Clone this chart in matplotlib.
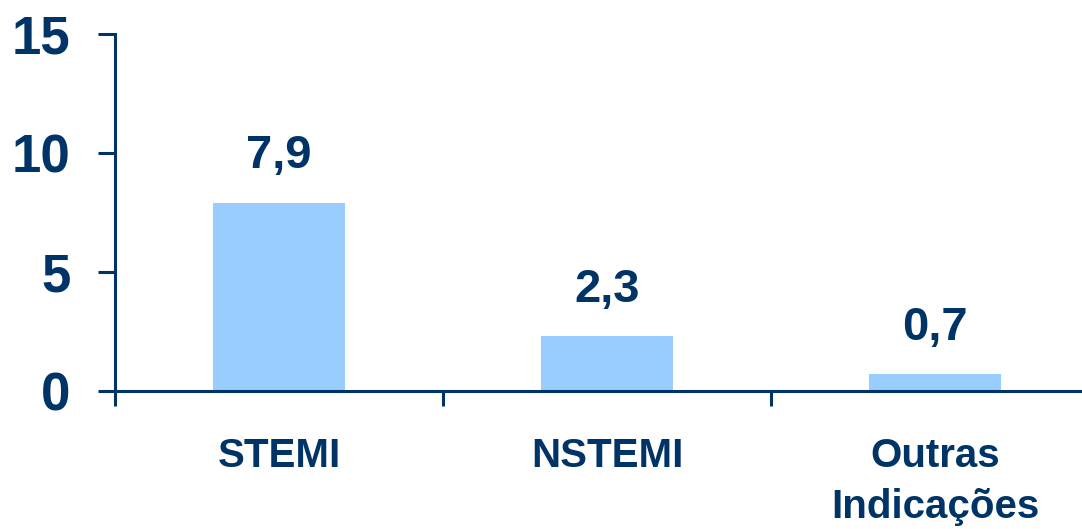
import matplotlib
matplotlib.use("Agg")
import matplotlib.pyplot as plt

categories = ["STEMI", "NSTEMI", "Outras\nIndicações"]
values = [7.9, 2.3, 0.7]
value_labels = ["7,9", "2,3", "0,7"]
yticks = [0, 5, 10, 15]

navy = "#003366"
bar_color = "#99ccff"

plt.rcParams['font.family'] = ['Liberation Sans', 'DejaVu Sans']
plt.rcParams['font.weight'] = 'bold'

fig = plt.figure(figsize=(10.82, 5.29), dpi=100)
ax = fig.add_axes([0.1063, 0.2609, 0.9094, 0.6749])

x = list(range(len(categories)))
ax.bar(x, values, width=0.4, color=bar_color, zorder=2)

for xi, v, lab in zip(x, values, value_labels):
    ax.annotate(lab, (xi, v), xytext=(0, 25), textcoords="offset points",
                ha="center", va="baseline", fontsize=34, fontweight="bold", color=navy)

ax.set_xlim(-0.5, len(categories) - 0.5)
ax.set_ylim(0, 15)
ax.set_yticks(yticks)
ax.set_yticklabels([str(t) for t in yticks])

# boundary ticks
ax.set_xticks([i - 0.5 for i in range(len(categories) + 1)])
ax.set_xticklabels([])
ax.set_xticks(x, minor=True)
ax.set_xticklabels(categories, minor=True, fontsize=29, fontweight="bold", color=navy,
                   linespacing=1.45)
ax.tick_params(axis="x", which="major", length=11, width=2.2, color=navy, direction="out")
ax.tick_params(axis="x", which="minor", length=0, pad=33)
ax.tick_params(axis="y", length=12, width=2.2, color=navy, direction="out", pad=20,
               labelsize=38, labelcolor=navy)
for lab in ax.get_yticklabels():
    lab.set_fontweight("bold")

for s in ["top", "right"]:
    ax.spines[s].set_visible(False)
for s in ["left", "bottom"]:
    ax.spines[s].set_color(navy)
    ax.spines[s].set_linewidth(2.2)
ax.spines["bottom"].set_zorder(3)

fig.savefig("out.png", dpi=100)
